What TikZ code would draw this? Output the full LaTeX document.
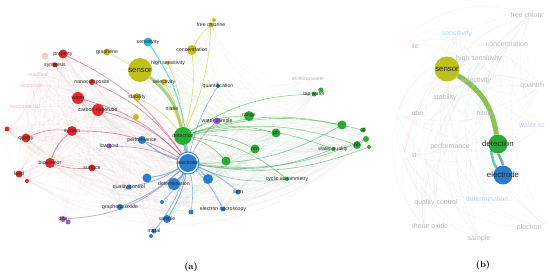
\documentclass[tikz,border=0pt]{standalone}
\usepackage{fontspec}
\newfontfamily\vosfont{Liberation Sans}
\usetikzlibrary{positioning}
\pgfdeclarelayer{edges}
\pgfsetlayers{edges,main}
\definecolor{vred}{RGB}{226,40,40}
\definecolor{vyel}{RGB}{192,192,28}
\definecolor{vblue}{RGB}{42,124,206}
\definecolor{vgreen}{RGB}{42,172,52}
\definecolor{vcyan}{RGB}{40,190,214}
\definecolor{vpurp}{RGB}{150,92,204}
\tikzset{
  kw/.style={circle,inner sep=0pt,minimum size=#1},
  term/.style={font=\vosfont\fontsize{5.2}{6}\selectfont,text=black!85,inner sep=0pt},
  bigterm/.style={term,font=\vosfont\fontsize{7.8}{9}\selectfont},
  dimterm/.style={term,text=#1},
  pale/.style={font=\vosfont\fontsize{7}{8}\selectfont,text=black!28,inner sep=0pt},
  link/.style={line width=#1,opacity=0.55},
  haze/.style={line width=0.3pt,opacity=0.09},
}
\begin{document}
\begin{tikzpicture}[x=1pt,y=-1pt,every label/.style={term}]
\useasboundingbox (0,0) rectangle (550,278);

% (a) red cluster
\node[kw=9pt,fill=vred,label=center:property] (property) at (63,54) {};
\node[kw=7pt,fill=vred!25] (pfaint) at (45,56) {};
\node[kw=5pt,fill=vred!85!black,label=center:synthesis] (synthesis) at (55,65) {};
\node[kw=6pt,fill=vred,label=center:nanocomposite] (nanocomp) at (92,82) {};
\node[kw=12pt,fill=vred,label=center:water] (water) at (78,98) {};
\node[kw=12pt,fill=vred,label=center:carbon nanotube] (cnt) at (98,110) {};
\node[kw=5pt,fill=vred] (rnode1) at (7,129) {};
\node[kw=10pt,fill=vred,label=center:system] (system) at (72,131) {};
\node[kw=9pt,fill=vred,label=center:quality] (quality) at (26,138) {};
\node[kw=10pt,fill=vred,label=center:biosensor] (biosensor) at (50,163) {};
\node[kw=7pt,fill=vred,label=center:food] (food) at (19,174) {};
\node[kw=4pt,fill=vred] (rnode2) at (27,181) {};
\node[kw=7pt,fill=vred,label=center:surface] (surface) at (92,168) {};
\node[dimterm=vred!35] (modified) at (38,75) {modified};
\node[dimterm=vred!35] (dispersion) at (32,86) {dispersion};
\node[dimterm=vred!35] (nanomat) at (25,107) {nanomaterial};

% (a) purple
\node[kw=5pt,fill=vpurp,label=center:low cost] (lowcost) at (109,146) {};
\node[kw=7pt,fill=vpurp,label=center:water sample] (watersample) at (217,121) {};
\node[kw=6pt,fill=vpurp,label=center:dna] (dna) at (63,219) {};
\node[kw=5pt,fill=vpurp] (dnab) at (68,222) {};

% (a) yellow cluster
\node[kw=24pt,fill=vyel,label={[bigterm]center:sensor}] (sensor) at (140,70) {};
\node[kw=7pt,fill=vyel,label=center:graphene] (graphene) at (107,52) {};
\node[kw=5pt,fill=vyel,label=center:free chlorine] (freecl) at (211,25) {};
\node[kw=4pt,fill=vyel] (freeclb) at (214,20) {};
\node[kw=10pt,fill=vyel,label=center:concentration] (concentration) at (192,50) {};
\node[kw=4pt,fill=vyel,label=center:high sensitivity] (highsens) at (168,63) {};
\node[kw=6pt,fill=vyel,label=center:selectivity] (selectivity) at (164,82) {};
\node[kw=8pt,fill=vyel,label=center:stability] (stability) at (137,97) {};
\node[kw=6pt,fill=vyel] (ynode) at (136,117) {};
\node[kw=3pt,fill=vyel,label=center:nitrite] (nitrite) at (172,109) {};
\node[kw=9pt,fill=vcyan,label=center:sensitivity] (sensitivity) at (148,42) {};

% (a) blue cluster
\node[kw=22pt,draw=vblue,line width=0.8pt,fill=white] (ering) at (188,163) {};
\node[kw=18pt,fill=vblue,label=center:electrode] (electrode) at (188,163) {};
\node[kw=8pt,fill=vblue,label=center:performance] (performance) at (142,140) {};
\node[kw=5pt,fill=vblue,label=center:quality control] (qcontrol) at (129,187) {};
\node[kw=6pt,fill=vblue,label=center:graphene oxide] (goxide) at (120,207) {};
\node[kw=12pt,fill=vblue,label=center:determination] (determination) at (174,184) {};
\node[kw=9pt,fill=vblue] (bnode1) at (147,178) {};
\node[kw=10pt,fill=vblue] (bnode2) at (208,179) {};
\node[kw=5pt,fill=vblue,label=center:sem] (sem) at (238,192) {};
\node[kw=4pt,fill=vblue] (bnode3) at (162,202) {};
\node[kw=5pt,fill=vblue,label=center:electron microscopy] (emicro) at (223,209) {};
\node[kw=5pt,fill=vblue] (bnode4) at (191,212) {};
\node[kw=8pt,fill=vblue,label=center:sample] (sample) at (167,219) {};
\node[kw=5pt,fill=vblue,label=center:metal] (metal) at (154,231) {};
\node[kw=4pt,fill=vblue] (bnode5) at (151,236) {};
\node[kw=4pt,fill=vblue,label=center:quantification] (quantif) at (218,86) {};

% (a) green cluster
\node[kw=18pt,fill=vgreen,label=center:detection] (detection) at (183,136) {};
\node[kw=10pt,fill=vgreen,label=center:range] (range) at (249,116) {};
\node[kw=9pt,fill=vgreen] (gnode1) at (226,161) {};
\node[kw=9pt,fill=vgreen,label=center:nm] (nm) at (255,149) {};
\node[kw=9pt,fill=vgreen,label=center:ph] (ph) at (276,133) {};
\node[kw=4pt,fill=vgreen,label=center:cyclic voltammetry] (cv) at (287,179) {};
\node[kw=4pt,fill=vgreen,label=center:water quality] (wquality) at (333,149) {};
\node[kw=5pt,fill=vgreen,label=center:tap water] (tapwater) at (314,94) {};
\node[kw=5pt,fill=vgreen] (tapwaterb) at (321,90) {};
\node[dimterm=black!30] (drinking) at (308,79) {drinking water};
\node[kw=9pt,fill=vgreen] (gnode2) at (342,125) {};
\node[kw=5pt,fill=vgreen,label=center:cd] (cd) at (363,130) {};
\node[kw=6pt,fill=vgreen] (gnode3) at (366,139) {};
\node[kw=8pt,fill=vgreen,label=center:pb] (pb) at (357,145) {};
\node[kw=4pt,fill=vgreen] (gnode4) at (369,147) {};

\begin{pgfonlayer}{edges}
  % faint background links
  \foreach \a in {property,water,cnt,system,quality,biosensor,food,surface,nanocomp,rnode1,synthesis}
    \foreach \b in {range,nm,ph,cv,wquality,tapwater,gnode2,cd,pb,gnode3,freecl}
      \draw[haze,vred!45!vgreen!70!white] (\a) to[bend right=40] (\b);
  \foreach \a in {property,water,cnt,system,quality,biosensor,food,surface,rnode1,modified,dispersion,nanomat}
    \foreach \b in {determination,sample,metal,emicro,sem,goxide,qcontrol,bnode4,dna}
      \draw[haze,vred!50!vpurp!70!white] (\a) to[bend left=30] (\b);
  \foreach \a in {property,water,cnt,system,quality,biosensor,food,surface,modified,dispersion,nanomat,pfaint}
    \foreach \b in {property,water,cnt,system,quality,biosensor,food,surface,rnode1,rnode2}
      \draw[haze,vred!80!white] (\a) to[bend left=20] (\b);
  \foreach \a in {sensor,concentration,sensitivity,freecl,selectivity,highsens}
    \foreach \b in {range,ph,cv,wquality,tapwater,gnode2,pb,drinking}
      \draw[haze,vgreen!60!vyel] (\a) to[bend right=30] (\b);
  \foreach \a in {determination,sample,emicro,metal,sem,bnode2}
    \foreach \b in {range,ph,cv,wquality,gnode2,pb,cd}
      \draw[haze,vblue!50!vgreen] (\a) to[bend left=25] (\b);
  % strong links
  \draw[link=3pt,vgreen!60!vyel] (sensor) to[bend left=20] (detection);
  \draw[link=2.5pt,vgreen!50!vblue] (detection) -- (electrode);
  \foreach \b/\w in {determination/1.6pt,bnode1/1pt,bnode2/1pt,sample/0.9pt,metal/0.7pt,emicro/0.7pt,sem/0.7pt,bnode3/0.6pt,bnode4/0.6pt,qcontrol/0.8pt,goxide/0.8pt,performance/1pt,quantif/0.6pt}
    \draw[link=\w,vblue] (electrode) to[bend left=10] (\b);
  \draw[link=1.2pt,vcyan] (electrode) to[bend right=15] (sensitivity);
  \draw[link=0.7pt,vpurp] (electrode) to[bend left=10] (watersample);
  \draw[link=0.8pt,vpurp] (electrode) to[bend left=20] (dna);
  \draw[link=0.6pt,vpurp] (electrode) to[bend right=10] (lowcost);
  \foreach \a in {cnt,water,system,property,nanocomp}
    \draw[link=0.7pt,vred!70!vpurp] (\a) to[bend left=15] (electrode);
  \draw[link=0.8pt,vred] (biosensor) to[bend left=15] (system);
  \draw[link=0.6pt,vred] (biosensor) to[bend right=10] (surface);
  \draw[link=0.6pt,vred] (quality) to[bend left=15] (system);
  \foreach \b in {range,nm,ph,cv,wquality,tapwater,gnode2,cd,pb,gnode1}
    \draw[link=0.6pt,vgreen] (detection) to[bend left=15] (\b);
  \foreach \b in {gnode2,gnode3,gnode4,wquality,cv}
    \draw[link=0.6pt,vgreen!70!vblue] (electrode) to[bend right=15] (\b);
  \foreach \b in {concentration,selectivity,stability,nitrite,highsens,freecl}
    \draw[link=0.6pt,vyel] (detection) to[bend right=10] (\b);
  \draw[link=0.6pt,vyel] (sensor) -- (graphene);
  \draw[link=0.6pt,vyel] (concentration) to[bend left=10] (freecl);
\end{pgfonlayer}

% (b) enlarged view
\begin{scope}
  \clip (412,0) rectangle (543,252);
  \node[pale] (bfree) at (530,15) {free chlorine};
  \node[pale,text=vcyan!45] (bsensit) at (457,34) {sensitivity};
  \node[pale] (bconc) at (507,44) {concentration};
  \node[pale] (bcomp) at (395,47) {nanocomposite};
  \node[pale] (bhigh) at (479,59) {high sensitivity};
  \node[pale] (bsel) at (476,81) {selectivity};
  \node[pale] (bquant) at (541,86) {quantification};
  \node[pale] (bstab) at (445,98) {stability};
  \node[pale] (bcnt) at (397,113) {carbon nanotube};
  \node[pale] (bnitr) at (485,113) {nitrite};
  \node[pale,text=vpurp!40] (bwsample) at (540,126) {water sample};
  \node[pale] (bperf) at (450,147) {performance};
  \node[pale] (bcost) at (404,155) {low cost};
  \node[pale,text=vblue!35] (bdeterm) at (487,199) {determination};
  \node[pale] (bqc) at (436,203) {quality control};
  \node[pale] (bgo) at (424,227) {graphene oxide};
  \node[pale] (bem) at (548,228) {electron microscopy};
  \node[pale] (bsample) at (479,239) {sample};
  \begin{pgfonlayer}{edges}
    \foreach \a in {bfree,bsensit,bconc,bhigh,bsel,bstab,bcnt,bperf,bcost}
      \foreach \b in {bdeterm,bqc,bgo,bem,bsample,bwsample,bquant,bnitr}
        \draw[haze,vblue!50!vgreen] (\a) to[bend right=25] (\b);
    \foreach \a in {bcomp,bcnt,bcost,bstab}
      \foreach \b in {bconc,bhigh,bsel,bfree,bquant}
        \draw[haze,vred] (\a) to[bend left=30] (\b);
  \end{pgfonlayer}
  \node[kw=25pt,fill=vyel,label={[bigterm]center:sensor}] (bsensor) at (447,69) {};
  \node[kw=19pt,fill=vgreen,label={[bigterm]center:detection}] (bdetect) at (498,144) {};
  \node[kw=19pt,fill=vblue,label={[bigterm]center:electrode}] (belectrode) at (503,175) {};
  \begin{pgfonlayer}{edges}
    \draw[line width=5pt,vgreen!55!vyel,opacity=0.8] (bsensor) to[bend left=25] (bdetect);
    \draw[line width=2.5pt,vgreen!50!vcyan,opacity=0.7] (bdetect.south west) to[bend right=8] (belectrode.north west);
    \draw[line width=2.5pt,vgreen!50!vblue,opacity=0.7] (bdetect.south) to[bend left=8] (belectrode.north);
  \end{pgfonlayer}
\end{scope}

% captions
\node[font=\bfseries\fontsize{9}{10}\selectfont] (capa) at (191,267) {(a)};
\node[font=\bfseries\fontsize{9}{10}\selectfont] (capb) at (483,265) {(b)};
\end{tikzpicture}
\end{document}
